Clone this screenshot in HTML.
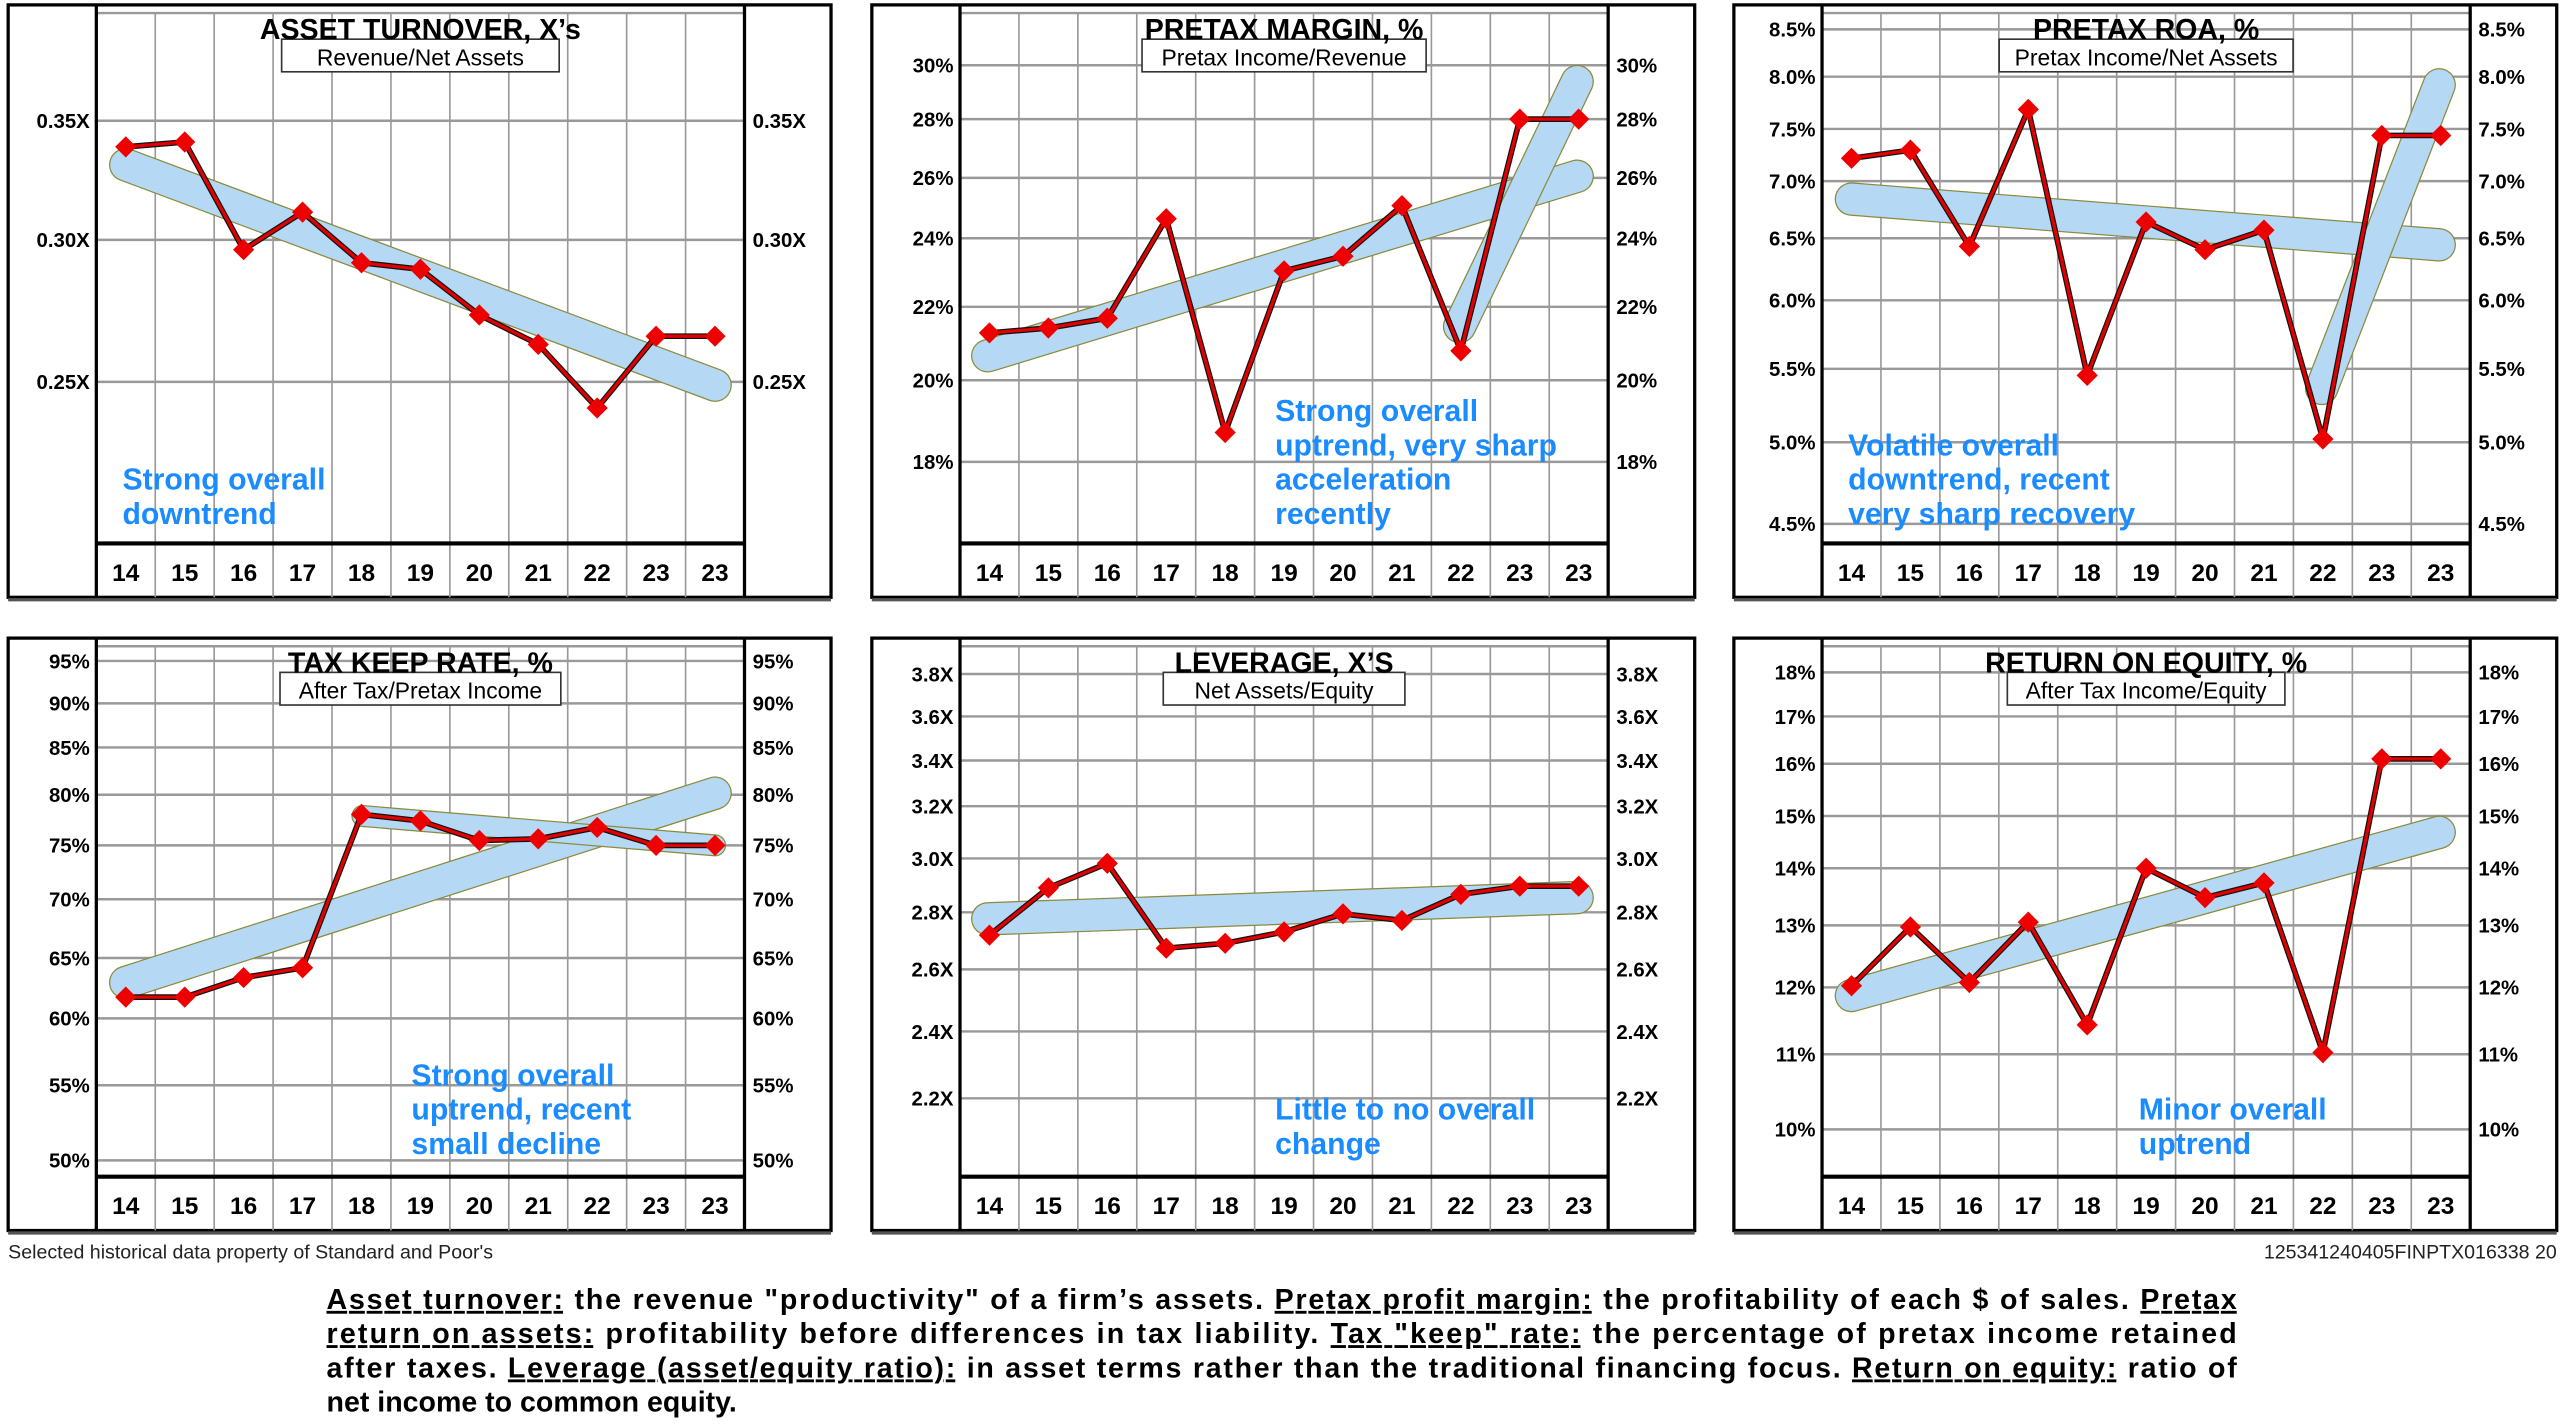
<!DOCTYPE html>
<html><head><meta charset="utf-8">
<style>
html,body{margin:0;padding:0;background:#fff;}
svg{display:block;}
text{font-family:"Liberation Sans",Arial,sans-serif;}
</style></head>
<body>
<svg id="s" xmlns="http://www.w3.org/2000/svg" width="2560" height="1428" viewBox="0 0 1568 875" preserveAspectRatio="none">
<rect width="1568" height="875" fill="#fff"/>
<g id="g"></g>
<text x="5" y="771" font-size="12" fill="#222">Selected historical data property of Standard and Poor's</text>
<text x="1566" y="771" font-size="12" fill="#222" text-anchor="end">125341240405FINPTX016338  20</text>
<g font-size="17.5" font-weight="bold" fill="#000">
<text x="200" y="802" textLength="1170" lengthAdjust="spacing"><tspan text-decoration="underline">Asset turnover:</tspan> the revenue "productivity" of a firm’s assets. <tspan text-decoration="underline">Pretax profit margin:</tspan> the profitability of each $ of sales. <tspan text-decoration="underline">Pretax</tspan></text>
<text x="200" y="823" textLength="1170" lengthAdjust="spacing"><tspan text-decoration="underline">return on assets:</tspan> profitability before differences in tax liability. <tspan text-decoration="underline">Tax "keep" rate:</tspan> the percentage of pretax income retained</text>
<text x="200" y="844" textLength="1170" lengthAdjust="spacing">after taxes. <tspan text-decoration="underline">Leverage (asset/equity ratio):</tspan> in asset terms rather than the traditional financing focus. <tspan text-decoration="underline">Return on equity:</tspan> ratio of</text>
<text x="200" y="865">net income to common equity.</text>
</g>
</svg>
<script>
var NS="http://www.w3.org/2000/svg",G=document.getElementById('g'),h='';
var years=['14','15','16','17','18','19','20','21','22','23','23'];
var P=[
{x:5,y:3,t:"ASSET TURNOVER, X’s",s:"Revenue/Net Assets",sw:170,
 L:[["0.35X",74],["0.30X",147],["0.25X",234]],
 d:[90,87,153,130,161,165,193,211,250,206,206],
 b:[[77,101,438,236,19]],a:["Strong overall","downtrend"],ax:75,ay:300},
{x:534,y:3,t:"PRETAX MARGIN, %",s:"Pretax Income/Revenue",sw:174,
 L:[["30%",40],["28%",73],["26%",109],["24%",146],["22%",188],["20%",233],["18%",283]],
 d:[204,201,195,134,265,166,157,126,215,73,73],
 b:[[605,218,966,108,19],[894,200,966,50,19]],a:["Strong overall","uptrend, very sharp","acceleration","recently"],ax:781,ay:258},
{x:1062,y:3,t:"PRETAX ROA, %",s:"Pretax Income/Net Assets",sw:180,
 L:[["8.5%",18],["8.0%",47],["7.5%",79],["7.0%",111],["6.5%",146],["6.0%",184],["5.5%",226],["5.0%",271],["4.5%",321]],
 d:[97,92,151,67,230,136,153,141,269,83,83],
 b:[[1134,122,1494,150,19],[1422,238,1494,52,19]],a:["Volatile overall","downtrend, recent","very sharp recovery"],ax:1132,ay:279},
{x:5,y:391,t:"TAX KEEP RATE, %",s:"After Tax/Pretax Income",sw:172,
 L:[["95%",405],["90%",431],["85%",458],["80%",487],["75%",518],["70%",551],["65%",587],["60%",624],["55%",665],["50%",711]],
 d:[611,611,599,593,499,503,515,514,507,518,518],
 b:[[77,602,438,486,19],[222,500,438,518,12]],a:["Strong overall","uptrend, recent","small decline"],ax:252,ay:665},
{x:534,y:391,t:"LEVERAGE, X’S",s:"Net Assets/Equity",sw:148,
 L:[["3.8X",413],["3.6X",439],["3.4X",466],["3.2X",494],["3.0X",526],["2.8X",559],["2.6X",594],["2.4X",632],["2.2X",673]],
 d:[573,544,529,581,578,571,560,564,548,543,543],
 b:[[605,563,966,550,19]],a:["Little to no overall","change"],ax:781,ay:686},
{x:1062,y:391,t:"RETURN ON EQUITY, %",s:"After Tax Income/Equity",sw:170,
 L:[["18%",412],["17%",439],["16%",468],["15%",500],["14%",532],["13%",567],["12%",605],["11%",646],["10%",692]],
 d:[604,568,602,565,628,532,550,541,645,465,465],
 b:[[1134,610,1494,510,19]],a:["Minor overall","uptrend"],ax:1310,ay:686}
];
P.forEach(function(p){
 var X=p.x,Y=p.y,la=X+54,ra=X+451,top=Y+5,bl=Y+330,bot=Y+363,cw=(ra-la)/11,cx=(la+ra)/2;
 h+='<rect x="'+X+'" y="'+Y+'" width="504" height="'+(bot-Y)+'" fill="#fff" stroke="#000" stroke-width="2"/>';
 h+='<line x1="'+X+'" y1="'+(bot+1.5)+'" x2="'+(X+504)+'" y2="'+(bot+1.5)+'" stroke="#555" stroke-width="2"/>';
 for(var i=1;i<11;i++){var gx=la+cw*i;h+='<line x1="'+gx+'" y1="'+top+'" x2="'+gx+'" y2="'+bot+'" stroke="#999" stroke-width="1"/>';}
 h+='<line x1="'+la+'" y1="'+top+'" x2="'+ra+'" y2="'+top+'" stroke="#999" stroke-width="1.5"/>';
 p.L.forEach(function(l){
  h+='<line x1="'+la+'" y1="'+l[1]+'" x2="'+ra+'" y2="'+l[1]+'" stroke="#999" stroke-width="1.5"/>';
  h+='<text x="'+(la-4)+'" y="'+(l[1]+4.5)+'" font-size="12.5" font-weight="bold" text-anchor="end">'+l[0]+'</text>';
  h+='<text x="'+(ra+5)+'" y="'+(l[1]+4.5)+'" font-size="12.5" font-weight="bold">'+l[0]+'</text>';
 });
 h+='<line x1="'+la+'" y1="'+Y+'" x2="'+la+'" y2="'+bot+'" stroke="#000" stroke-width="2"/>';
 h+='<line x1="'+ra+'" y1="'+Y+'" x2="'+ra+'" y2="'+bot+'" stroke="#000" stroke-width="2"/>';
 h+='<line x1="'+la+'" y1="'+bl+'" x2="'+ra+'" y2="'+bl+'" stroke="#000" stroke-width="2.5"/>';
 years.forEach(function(yv,i){h+='<text x="'+(la+cw*(i+.5))+'" y="'+(Y+353)+'" font-size="15" font-weight="bold" text-anchor="middle">'+yv+'</text>';});
 // subtitle box & title
 h+='<rect x="'+(cx-p.sw/2)+'" y="'+(Y+21)+'" width="'+p.sw+'" height="20" fill="#fff" stroke="#333" stroke-width="1"/>';
 h+='<text x="'+cx+'" y="'+(Y+21)+'" font-size="17.5" font-weight="bold" text-anchor="middle">'+p.t+'</text>';
 h+='<text x="'+cx+'" y="'+(Y+37)+'" font-size="14" text-anchor="middle">'+p.s+'</text>';
 // bands
 p.b.forEach(function(b){
  h+='<line x1="'+b[0]+'" y1="'+b[1]+'" x2="'+b[2]+'" y2="'+b[3]+'" stroke="#8a8a3a" stroke-width="'+(b[4]+1.5)+'" stroke-linecap="round"/>';
  h+='<line x1="'+b[0]+'" y1="'+b[1]+'" x2="'+b[2]+'" y2="'+b[3]+'" stroke="#b5d8f5" stroke-width="'+b[4]+'" stroke-linecap="round"/>';
 });
 var pts=p.d.map(function(v,i){return [la+cw*(i+.5),v];});
 h+='<polyline points="'+pts.map(function(q){return q.join(',')}).join(' ')+'" fill="none" stroke="#111" stroke-width="3.5"/>';
 h+='<polyline points="'+pts.map(function(q){return q.join(',')}).join(' ')+'" fill="none" stroke="#e00000" stroke-width="2"/>';
 pts.forEach(function(q){var r=6.5;h+='<polygon points="'+q[0]+','+(q[1]-r)+' '+(q[0]+r)+','+q[1]+' '+q[0]+','+(q[1]+r)+' '+(q[0]-r)+','+q[1]+'" fill="#ee0000"/>';});
 p.a.forEach(function(t,i){h+='<text x="'+p.ax+'" y="'+(p.ay+i*21)+'" font-size="18.5" font-weight="bold" fill="#1a8cff">'+t+'</text>';});
});
G.innerHTML=h;
</script>
</body></html>
